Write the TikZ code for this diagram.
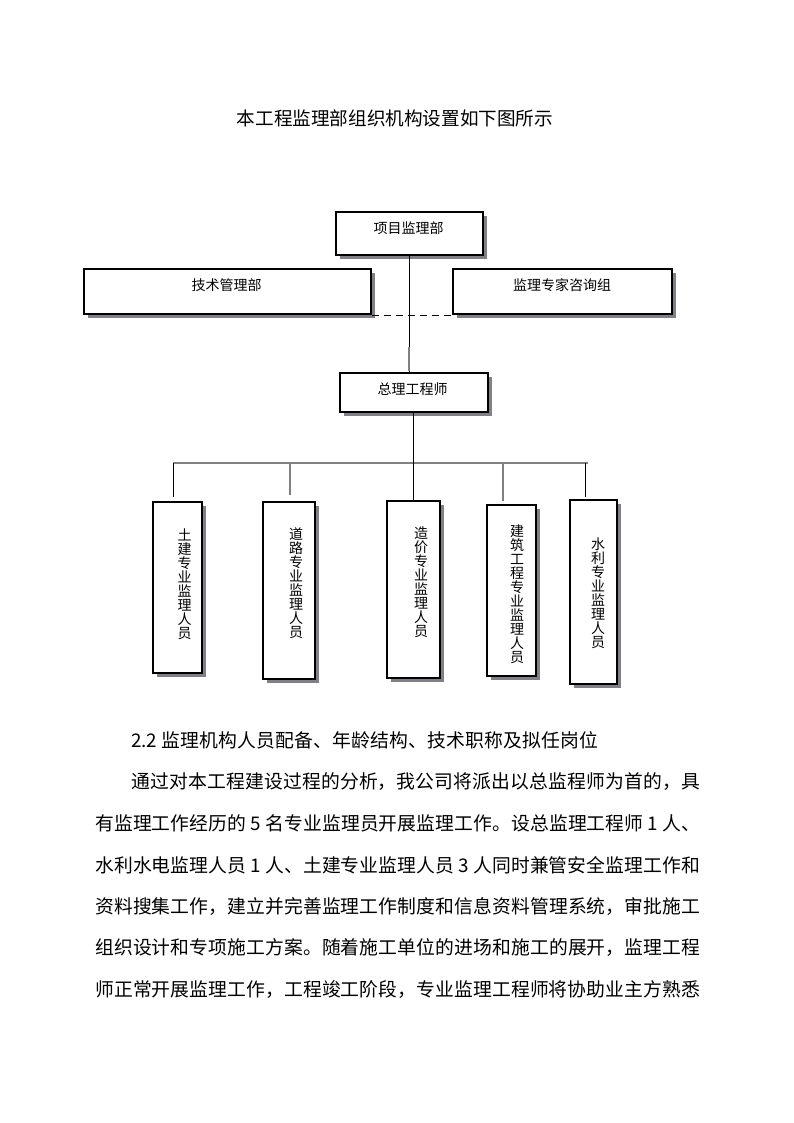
\documentclass[tikz,border=0pt]{standalone}
\usepackage{fontspec}
\newfontfamily\cjk{Noto Sans CJK SC}
\usetikzlibrary{shadows,calc}
\XeTeXlinebreaklocale "zh"
\XeTeXlinebreakskip=0pt plus 3pt minus 0.3pt
\definecolor{sgray}{RGB}{128,128,134}
\definecolor{lgray}{RGB}{128,128,128}
\newcommand\jline[1]{\noindent\tolerance=10000 \hbadness=10000 \parfillskip=0pt\relax #1\par}
\begin{document}
\begin{tikzpicture}[x=1pt,y=-1pt,
  box/.style={draw=black, line width=2pt, fill=white, inner sep=0pt,
    drop shadow={shadow xshift=4pt, shadow yshift=-4pt, fill=sgray, opacity=1}},
  boxtext/.style={inner sep=0pt, font=\cjk\fontsize{14pt}{14pt}\selectfont},
  vtext/.style={boxtext, align=center},
  link/.style={line width=1pt, draw=black},
  glink/.style={line width=2pt, draw=lgray},
  tglink/.style={line width=1.2pt, draw=lgray},
  dlink/.style={line width=1pt, draw=black, dash pattern=on 7pt off 5pt},
  bodyline/.style={anchor=west, inner sep=0pt, align=justify, font=\cjk\fontsize{18.8pt}{18.8pt}\selectfont},
  titlestyle/.style={inner sep=0pt, font=\cjk\fontsize{18.6pt}{18.6pt}\selectfont}
]
\fill[white] (0,0) rectangle (794,1123);
\useasboundingbox (0,0) rectangle (794,1123);

\node[titlestyle] (title) at (395,118) {本工程监理部组织机构设置如下图所示};

% boxes
\node[box, minimum width=147pt, minimum height=43pt] (xm) at (409.5,233.5) {};
\node[boxtext] (xmt) at (408.5,228) {项目监理部};
\node[box, minimum width=287pt, minimum height=45pt] (js) at (227.5,291.5) {};
\node[boxtext] (jst) at (226.5,285) {技术管理部};
\node[box, minimum width=219pt, minimum height=45pt] (zj) at (562.5,291.5) {};
\node[boxtext] (zjt) at (562,285) {监理专家咨询组};
\node[box, minimum width=148pt, minimum height=39pt] (zl) at (414,392.5) {};
\node[boxtext] (zlt) at (412.5,389) {总理工程师};

\node[box, minimum width=49pt, minimum height=171pt] (tj) at (177.5,587.5) {};
\node[vtext] (tjt) at (184.5,584) {土\\建\\专\\业\\监\\理\\人\\员};
\node[box, minimum width=52pt, minimum height=177pt] (dl) at (289,590.5) {};
\node[vtext] (dlt) at (296,583) {道\\路\\专\\业\\监\\理\\人\\员};
\node[box, minimum width=53pt, minimum height=177pt] (zjia) at (413.5,589.5) {};
\node[vtext] (zjiat) at (421,582) {造\\价\\专\\业\\监\\理\\人\\员};
\node[box, minimum width=49pt, minimum height=171pt] (jz) at (511.5,590.5) {};
\node[vtext] (jzt) at (517,594) {建\\筑\\工\\程\\专\\业\\监\\理\\人\\员};
\node[box, minimum width=47pt, minimum height=184pt] (sl) at (593.5,592) {};
\node[vtext] (slt) at (598,593) {水\\利\\专\\业\\监\\理\\人\\员};

% connectors
\coordinate (busL) at (173,463);
\coordinate (busR) at (588,463);
\coordinate (dlx) at (290,463);
\coordinate (jzx) at (503,463);
\coordinate (slx) at (585,463);
\coordinate (zlx) at (413,463);

\draw[link] (xm.south -| 409,0) -- (zl.north -| 409,0);
\draw[glink, shorten >=1pt] ($(zl.north -| 409,0)+(0,-25)$) -- (zl.north -| 409,0);
\draw[dlink] (js.south east) -- (zj.south west);

\draw[glink] (busL) -- (busR);
\draw[link] (zl.south -| zlx) -- (zjia.north -| zlx);
\draw[link, shorten >=4pt] (busL) -- (busL |- tj.north);
\draw[glink, line width=1.5pt, shorten >=6pt] (dlx) -- (dlx |- dl.north);
\draw[tglink, shorten >=3pt] (jzx) -- (jzx |- jz.north);
\draw[link, shorten >=2pt] (slx) -- (slx |- sl.north);

% body text
\node[bodyline, text width=467pt] (h22) at (131,740) {\jline{2.2 监理机构人员配备、年龄结构、技术职称及拟任岗位}};
\node[bodyline, text width=569pt] (p1) at (131,782) {\jline{通过对本工程建设过程的分析，我公司将派出以总监程师为首的，具}};
\node[bodyline, text width=605pt] (p2) at (95,823) {\jline{有监理工作经历的 5 名专业监理员开展监理工作。设总监理工程师 1 人、}};
\node[bodyline, text width=605pt] (p3) at (95,865) {\jline{水利水电监理人员 1 人、土建专业监理人员 3 人同时兼管安全监理工作和}};
\node[bodyline, text width=605pt] (p4) at (95,907) {\jline{资料搜集工作，建立并完善监理工作制度和信息资料管理系统，审批施工}};
\node[bodyline, text width=605pt] (p5) at (95,948) {\jline{组织设计和专项施工方案。随着施工单位的进场和施工的展开，监理工程}};
\node[bodyline, text width=605pt] (p6) at (95,990) {\jline{师正常开展监理工作，工程竣工阶段，专业监理工程师将协助业主方熟悉}};
\end{tikzpicture}
\end{document}
